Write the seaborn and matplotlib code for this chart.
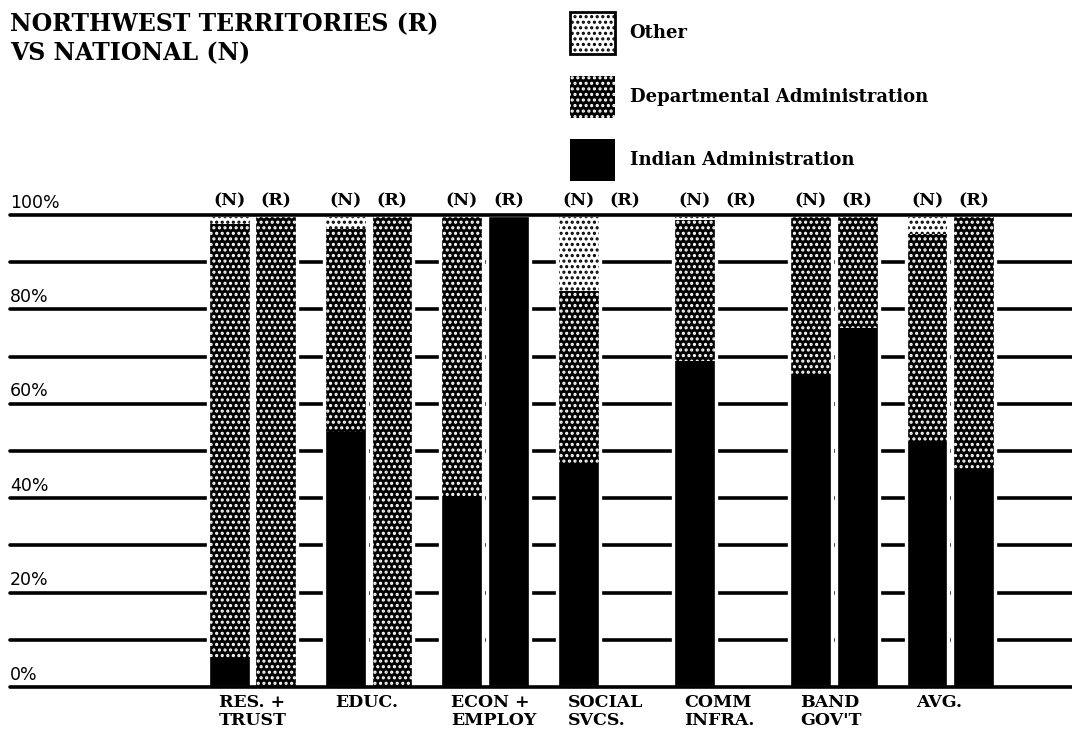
import numpy as np
import pandas as pd
import seaborn as sns
import matplotlib.pyplot as plt
from matplotlib.patches import Patch

# categories and the two sources (National, Northwest Territories)
categories = ["RES. +\nTRUST", "EDUC.", "ECON +\nEMPLOY", "SOCIAL\nSVCS.",
              "COMM\nINFRA.", "BAND\nGOV'T", "AVG."]
sources = ["(N)", "(R)"]

# percent shares
indian_n = [6, 54, 40, 47, 69, 66, 52]
dept_n = [92, 43, 60, 37, 30, 34, 44]
other_n = [2, 3, 0, 16, 1, 0, 4]
indian_r = [0, 0, 100, 0, 0, 76, 46]
dept_r = [100, 100, 0, 0, 0, 24, 54]
other_r = [0, 0, 0, 0, 0, 0, 0]

legend_labels = ["Other", "Departmental Administration", "Indian Administration"]
y_labels = [0, 20, 40, 60, 80, 100]

# long table, with cumulative heights for the overlay stacking trick
rows = []
for i, cat in enumerate(categories):
    for src, ind, dep, oth in [("(N)", indian_n, dept_n, other_n),
                               ("(R)", indian_r, dept_r, other_r)]:
        rows.append({"category": cat, "source": src,
                     "indian": ind[i],
                     "dept": ind[i] + dep[i],
                     "other": ind[i] + dep[i] + oth[i]})
df = pd.DataFrame(rows)

sns.set_theme(style="white")
plt.rcParams["hatch.linewidth"] = 1.5
plt.rcParams["text.color"] = "black"
serif = dict(family="DejaVu Serif", weight="bold")

fig = plt.figure(figsize=(10.72, 7.36), dpi=100)
ax = fig.add_axes([10 / 1072, 1 - 687 / 736, 1 - 10 / 1072, 472 / 736])

# stacked bars: draw the tallest layer first, then overlay
layers = [("other", "white", "black", "..."),
          ("dept", "black", "white", "..."),
          ("indian", "black", "black", "")]
for col, face, dots, hatch in layers:
    n0 = len(ax.patches)
    sns.barplot(data=df, x="category", y=col, hue="source", order=categories,
                hue_order=sources, palette=[face, face], saturation=1,
                width=0.8, gap=0.08, errorbar=None, legend=False, ax=ax, zorder=2)
    for p in ax.patches[n0:]:
        p.set_edgecolor(dots)
        p.set_linewidth(0)
        p.set_hatch(hatch)

# white outline round each bar (cuts the grid lines like the print)
n0 = len(ax.patches)
sns.barplot(data=df, x="category", y="other", hue="source", order=categories,
            hue_order=sources, palette=["white", "white"], saturation=1,
            width=0.8, gap=0.08, errorbar=None, legend=False, ax=ax)
for p in ax.patches[n0:]:
    p.set_facecolor("none")
    p.set_edgecolor("white")
    p.set_linewidth(2.4)
    p.set_zorder(3)
    if p.get_height() == 0:
        p.set_visible(False)

# heavy ruled lines every 10%
for v in range(0, 101, 10):
    ax.axhline(v, color="black", lw=2.6, clip_on=False,
               zorder=4 if v in (0, 100) else 1)

for v in y_labels:
    ax.annotate(f"{v}%", xy=(0, v), xycoords=("axes fraction", "data"),
                xytext=(0, 2.5), textcoords="offset points",
                ha="left", va="bottom", fontsize=12.5, family="DejaVu Sans",
                color="black")

ax.set_ylim(0, 100)
ax.set_xlim(-2.085, 7.046)
ax.set_yticks([])
ax.set_xlabel("")
ax.set_ylabel("")
sns.despine(ax=ax, left=True, bottom=True)

# category labels, left aligned under the (N) bar
ax.set_xticks(np.arange(len(categories)) - 0.29)
ax.set_xticklabels(categories, ha="left", fontsize=12.5, linespacing=1.05, **serif)
ax.tick_params(axis="x", length=0, pad=5, colors="black")

# (N) / (R) labels above each bar
top = ax.secondary_xaxis("top")
pos = [i + d for i in range(len(categories)) for d in (-0.2, 0.2)]
top.set_xticks(pos)
top.set_xticklabels(sources * len(categories), fontsize=12.5, **serif)
top.tick_params(axis="x", length=0, pad=4, colors="black")
top.spines["top"].set_visible(False)

fig.text(10 / 1072, 1 - 12 / 736, "NORTHWEST TERRITORIES (R)\nVS NATIONAL (N)",
         ha="left", va="top", fontsize=17, linespacing=1.3, color="black", **serif)

handles = [Patch(facecolor="white", edgecolor="black", hatch="...", lw=2),
           Patch(facecolor="black", edgecolor="white", hatch="...", lw=0),
           Patch(facecolor="black", edgecolor="black", lw=0)]
fig.legend(handles, legend_labels, loc="upper left",
           bbox_to_anchor=(570 / 1072, 1 - 12 / 736), frameon=False,
           borderpad=0, borderaxespad=0, handlelength=2.5, handleheight=3.2,
           labelspacing=1.2, handletextpad=0.8, labelcolor="black",
           prop=dict(family="DejaVu Serif", weight="bold", size=13))

fig.savefig("out.png", dpi=100)
